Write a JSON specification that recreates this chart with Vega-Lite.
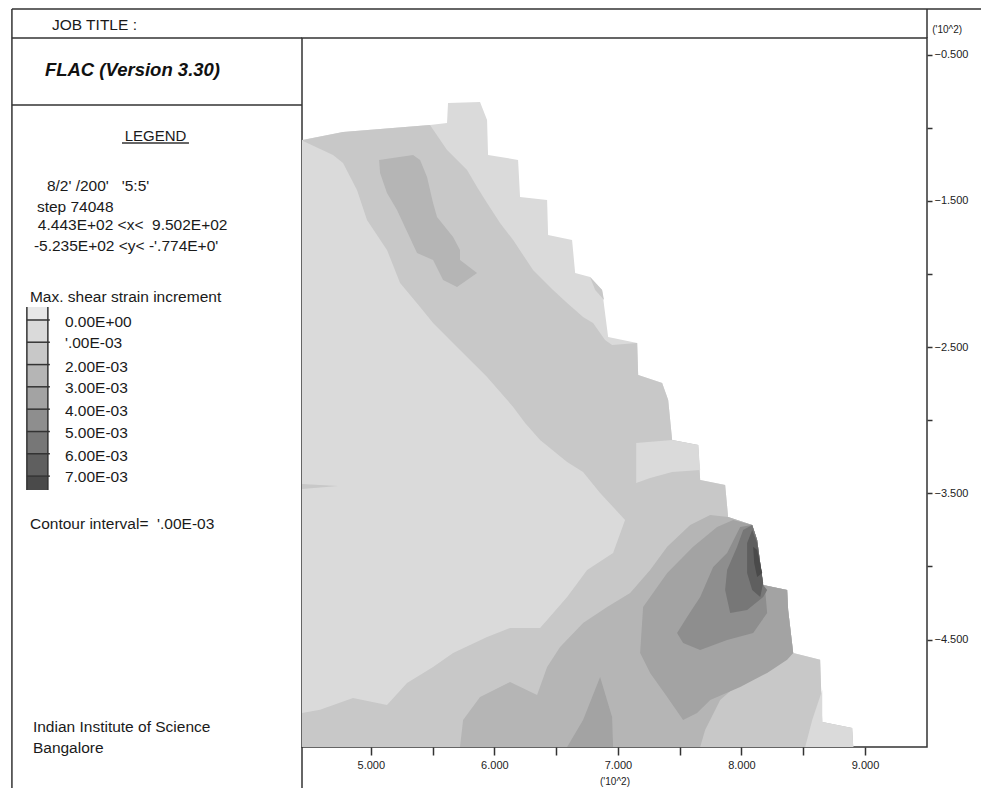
{
  "$schema": "https://vega.github.io/schema/vega-lite/v6.json",
  "autosize": {"type": "none"},
  "padding": {"left": 302, "top": 38, "right": 54, "bottom": 41},
  "width": 625,
  "height": 709,
  "background": "white",
  "config": {"view": {"stroke": "#333333", "strokeWidth": 1.5}, "text": {"font": "Liberation Sans", "color": "#1a1a1a"}},
  "datasets": {
    "poly": [
      {"s":1,"p":"A","l":1,"i":0,"x":4.443,"y":-1.083},{"s":1,"p":"A","l":1,"i":1,"x":4.775,"y":-1.028},{"s":1,"p":"A","l":1,"i":2,"x":5.479,"y":-0.980},{"s":1,"p":"A","l":1,"i":3,"x":5.617,"y":-0.966},{"s":1,"p":"A","l":1,"i":4,"x":5.625,"y":-0.830},{"s":1,"p":"A","l":1,"i":5,"x":5.884,"y":-0.823},{"s":1,"p":"A","l":1,"i":6,"x":5.941,"y":-0.946},{"s":1,"p":"A","l":1,"i":7,"x":5.949,"y":-1.185},{"s":1,"p":"A","l":1,"i":8,"x":6.192,"y":-1.219},{"s":1,"p":"A","l":1,"i":9,"x":6.208,"y":-1.473},{"s":1,"p":"A","l":1,"i":10,"x":6.427,"y":-1.493},{"s":1,"p":"A","l":1,"i":11,"x":6.435,"y":-1.732},{"s":1,"p":"A","l":1,"i":12,"x":6.629,"y":-1.767},{"s":1,"p":"A","l":1,"i":13,"x":6.654,"y":-1.992},{"s":1,"p":"A","l":1,"i":14,"x":6.775,"y":-2.020},{"s":1,"p":"A","l":1,"i":15,"x":6.872,"y":-2.109},{"s":1,"p":"A","l":1,"i":16,"x":6.921,"y":-2.430},{"s":1,"p":"A","l":1,"i":17,"x":7.156,"y":-2.471},{"s":1,"p":"A","l":1,"i":18,"x":7.164,"y":-2.690},{"s":1,"p":"A","l":1,"i":19,"x":7.358,"y":-2.745},{"s":1,"p":"A","l":1,"i":20,"x":7.407,"y":-2.861},{"s":1,"p":"A","l":1,"i":21,"x":7.439,"y":-3.135},{"s":1,"p":"A","l":1,"i":22,"x":7.650,"y":-3.169},{"s":1,"p":"A","l":1,"i":23,"x":7.666,"y":-3.408},{"s":1,"p":"A","l":1,"i":24,"x":7.868,"y":-3.442},{"s":1,"p":"A","l":1,"i":25,"x":7.892,"y":-3.661},{"s":1,"p":"A","l":1,"i":26,"x":8.087,"y":-3.716},{"s":1,"p":"A","l":1,"i":27,"x":8.127,"y":-3.819},{"s":1,"p":"A","l":1,"i":28,"x":8.176,"y":-4.126},{"s":1,"p":"A","l":1,"i":29,"x":8.370,"y":-4.161},{"s":1,"p":"A","l":1,"i":30,"x":8.378,"y":-4.297},{"s":1,"p":"A","l":1,"i":31,"x":8.419,"y":-4.592},{"s":1,"p":"A","l":1,"i":32,"x":8.637,"y":-4.639},{"s":1,"p":"A","l":1,"i":33,"x":8.654,"y":-5.064},{"s":1,"p":"A","l":1,"i":34,"x":8.896,"y":-5.105},{"s":1,"p":"A","l":1,"i":35,"x":8.905,"y":-5.235},{"s":1,"p":"A","l":1,"i":36,"x":4.443,"y":-5.235},

      {"s":2,"p":"B","l":2,"i":0,"x":4.451,"y":-1.083},{"s":2,"p":"B","l":2,"i":1,"x":4.775,"y":-1.028},{"s":2,"p":"B","l":2,"i":2,"x":5.479,"y":-0.980},{"s":2,"p":"B","l":2,"i":3,"x":5.617,"y":-1.151},{"s":2,"p":"B","l":2,"i":4,"x":5.779,"y":-1.288},{"s":2,"p":"B","l":2,"i":5,"x":5.860,"y":-1.404},{"s":2,"p":"B","l":2,"i":6,"x":5.941,"y":-1.514},{"s":2,"p":"B","l":2,"i":7,"x":6.046,"y":-1.650},{"s":2,"p":"B","l":2,"i":8,"x":6.152,"y":-1.767},{"s":2,"p":"B","l":2,"i":9,"x":6.313,"y":-1.972},{"s":2,"p":"B","l":2,"i":10,"x":6.475,"y":-2.109},{"s":2,"p":"B","l":2,"i":11,"x":6.589,"y":-2.198},{"s":2,"p":"B","l":2,"i":12,"x":6.718,"y":-2.293},{"s":2,"p":"B","l":2,"i":13,"x":6.799,"y":-2.334},{"s":2,"p":"B","l":2,"i":14,"x":6.896,"y":-2.451},{"s":2,"p":"B","l":2,"i":15,"x":6.953,"y":-2.485},{"s":2,"p":"B","l":2,"i":16,"x":7.156,"y":-2.471},{"s":2,"p":"B","l":2,"i":17,"x":7.164,"y":-2.690},{"s":2,"p":"B","l":2,"i":18,"x":7.358,"y":-2.745},{"s":2,"p":"B","l":2,"i":19,"x":7.407,"y":-2.861},{"s":2,"p":"B","l":2,"i":20,"x":7.439,"y":-3.135},{"s":2,"p":"B","l":2,"i":21,"x":7.650,"y":-3.169},{"s":2,"p":"B","l":2,"i":22,"x":7.666,"y":-3.408},{"s":2,"p":"B","l":2,"i":23,"x":7.868,"y":-3.442},{"s":2,"p":"B","l":2,"i":24,"x":7.892,"y":-3.661},{"s":2,"p":"B","l":2,"i":25,"x":8.087,"y":-3.716},{"s":2,"p":"B","l":2,"i":26,"x":8.127,"y":-3.819},{"s":2,"p":"B","l":2,"i":27,"x":8.176,"y":-4.126},{"s":2,"p":"B","l":2,"i":28,"x":8.370,"y":-4.161},{"s":2,"p":"B","l":2,"i":29,"x":8.378,"y":-4.297},{"s":2,"p":"B","l":2,"i":30,"x":8.419,"y":-4.592},{"s":2,"p":"B","l":2,"i":31,"x":8.637,"y":-4.639},{"s":2,"p":"B","l":2,"i":32,"x":8.654,"y":-5.064},{"s":2,"p":"B","l":2,"i":33,"x":8.896,"y":-5.105},{"s":2,"p":"B","l":2,"i":34,"x":8.905,"y":-5.235},{"s":2,"p":"B","l":2,"i":35,"x":4.443,"y":-5.235},{"s":2,"p":"B","l":2,"i":36,"x":4.443,"y":-5.002},{"s":2,"p":"B","l":2,"i":37,"x":4.589,"y":-4.981},{"s":2,"p":"B","l":2,"i":38,"x":4.856,"y":-4.899},{"s":2,"p":"B","l":2,"i":39,"x":5.131,"y":-4.947},{"s":2,"p":"B","l":2,"i":40,"x":5.293,"y":-4.797},{"s":2,"p":"B","l":2,"i":41,"x":5.504,"y":-4.687},{"s":2,"p":"B","l":2,"i":42,"x":5.666,"y":-4.592},{"s":2,"p":"B","l":2,"i":43,"x":5.941,"y":-4.482},{"s":2,"p":"B","l":2,"i":44,"x":6.127,"y":-4.421},{"s":2,"p":"B","l":2,"i":45,"x":6.370,"y":-4.421},{"s":2,"p":"B","l":2,"i":46,"x":6.427,"y":-4.366},{"s":2,"p":"B","l":2,"i":47,"x":6.589,"y":-4.209},{"s":2,"p":"B","l":2,"i":48,"x":6.751,"y":-4.024},{"s":2,"p":"B","l":2,"i":49,"x":6.961,"y":-3.908},{"s":2,"p":"B","l":2,"i":50,"x":7.058,"y":-3.682},{"s":2,"p":"B","l":2,"i":51,"x":6.856,"y":-3.497},{"s":2,"p":"B","l":2,"i":52,"x":6.718,"y":-3.354},{"s":2,"p":"B","l":2,"i":53,"x":6.589,"y":-3.285},{"s":2,"p":"B","l":2,"i":54,"x":6.370,"y":-3.135},{"s":2,"p":"B","l":2,"i":55,"x":6.249,"y":-3.018},{"s":2,"p":"B","l":2,"i":56,"x":6.152,"y":-2.909},{"s":2,"p":"B","l":2,"i":57,"x":5.941,"y":-2.704},{"s":2,"p":"B","l":2,"i":58,"x":5.722,"y":-2.519},{"s":2,"p":"B","l":2,"i":59,"x":5.504,"y":-2.334},{"s":2,"p":"B","l":2,"i":60,"x":5.399,"y":-2.225},{"s":2,"p":"B","l":2,"i":61,"x":5.237,"y":-2.061},{"s":2,"p":"B","l":2,"i":62,"x":5.131,"y":-1.835},{"s":2,"p":"B","l":2,"i":63,"x":4.969,"y":-1.630},{"s":2,"p":"B","l":2,"i":64,"x":4.888,"y":-1.425},{"s":2,"p":"B","l":2,"i":65,"x":4.775,"y":-1.240},{"s":2,"p":"B","l":2,"i":66,"x":4.694,"y":-1.185},{"s":2,"p":"B","l":2,"i":67,"x":4.451,"y":-1.090},

      {"s":2,"p":"C","l":2,"i":0,"x":4.443,"y":-3.436},{"s":2,"p":"C","l":2,"i":1,"x":4.735,"y":-3.449},{"s":2,"p":"C","l":2,"i":2,"x":4.443,"y":-3.470},

      {"s":3,"p":"D","l":3,"i":0,"x":5.067,"y":-1.219},{"s":3,"p":"D","l":3,"i":1,"x":5.342,"y":-1.185},{"s":3,"p":"D","l":3,"i":2,"x":5.399,"y":-1.219},{"s":3,"p":"D","l":3,"i":3,"x":5.455,"y":-1.336},{"s":3,"p":"D","l":3,"i":4,"x":5.504,"y":-1.514},{"s":3,"p":"D","l":3,"i":5,"x":5.536,"y":-1.609},{"s":3,"p":"D","l":3,"i":6,"x":5.666,"y":-1.746},{"s":3,"p":"D","l":3,"i":7,"x":5.722,"y":-1.835},{"s":3,"p":"D","l":3,"i":8,"x":5.722,"y":-1.903},{"s":3,"p":"D","l":3,"i":9,"x":5.860,"y":-1.992},{"s":3,"p":"D","l":3,"i":10,"x":5.698,"y":-2.088},{"s":3,"p":"D","l":3,"i":11,"x":5.585,"y":-2.040},{"s":3,"p":"D","l":3,"i":12,"x":5.504,"y":-1.903},{"s":3,"p":"D","l":3,"i":13,"x":5.374,"y":-1.856},{"s":3,"p":"D","l":3,"i":14,"x":5.261,"y":-1.650},{"s":3,"p":"D","l":3,"i":15,"x":5.212,"y":-1.561},{"s":3,"p":"D","l":3,"i":16,"x":5.131,"y":-1.445},{"s":3,"p":"D","l":3,"i":17,"x":5.075,"y":-1.308},

      {"s":3,"p":"E","l":3,"i":0,"x":5.722,"y":-5.235},{"s":3,"p":"E","l":3,"i":1,"x":5.747,"y":-5.050},{"s":3,"p":"E","l":3,"i":2,"x":5.884,"y":-4.893},{"s":3,"p":"E","l":3,"i":3,"x":6.127,"y":-4.790},{"s":3,"p":"E","l":3,"i":4,"x":6.346,"y":-4.879},{"s":3,"p":"E","l":3,"i":5,"x":6.427,"y":-4.687},{"s":3,"p":"E","l":3,"i":6,"x":6.532,"y":-4.551},{"s":3,"p":"E","l":3,"i":7,"x":6.718,"y":-4.386},{"s":3,"p":"E","l":3,"i":8,"x":6.913,"y":-4.277},{"s":3,"p":"E","l":3,"i":9,"x":7.099,"y":-4.181},{"s":3,"p":"E","l":3,"i":10,"x":7.261,"y":-4.024},{"s":3,"p":"E","l":3,"i":11,"x":7.399,"y":-3.866},{"s":3,"p":"E","l":3,"i":12,"x":7.585,"y":-3.716},{"s":3,"p":"E","l":3,"i":13,"x":7.747,"y":-3.648},{"s":3,"p":"E","l":3,"i":14,"x":7.892,"y":-3.661},{"s":3,"p":"E","l":3,"i":15,"x":8.087,"y":-3.716},{"s":3,"p":"E","l":3,"i":16,"x":8.127,"y":-3.819},{"s":3,"p":"E","l":3,"i":17,"x":8.176,"y":-4.126},{"s":3,"p":"E","l":3,"i":18,"x":8.370,"y":-4.161},{"s":3,"p":"E","l":3,"i":19,"x":8.378,"y":-4.297},{"s":3,"p":"E","l":3,"i":20,"x":8.419,"y":-4.592},{"s":3,"p":"E","l":3,"i":21,"x":8.273,"y":-4.653},{"s":3,"p":"E","l":3,"i":22,"x":8.030,"y":-4.763},{"s":3,"p":"E","l":3,"i":23,"x":7.828,"y":-4.913},{"s":3,"p":"E","l":3,"i":24,"x":7.706,"y":-5.118},{"s":3,"p":"E","l":3,"i":25,"x":7.666,"y":-5.235},

      {"s":3,"p":"L","l":1,"i":0,"x":7.148,"y":-3.155},{"s":3,"p":"L","l":1,"i":1,"x":7.439,"y":-3.135},{"s":3,"p":"L","l":1,"i":2,"x":7.650,"y":-3.169},{"s":3,"p":"L","l":1,"i":3,"x":7.666,"y":-3.340},{"s":3,"p":"L","l":1,"i":4,"x":7.439,"y":-3.354},{"s":3,"p":"L","l":1,"i":5,"x":7.261,"y":-3.395},{"s":3,"p":"L","l":1,"i":6,"x":7.148,"y":-3.429},

      {"s":3,"p":"M","l":1,"i":0,"x":8.654,"y":-4.845},{"s":3,"p":"M","l":1,"i":1,"x":8.654,"y":-5.064},{"s":3,"p":"M","l":1,"i":2,"x":8.896,"y":-5.105},{"s":3,"p":"M","l":1,"i":3,"x":8.905,"y":-5.235},{"s":3,"p":"M","l":1,"i":4,"x":8.516,"y":-5.235},{"s":3,"p":"M","l":1,"i":5,"x":8.573,"y":-5.050},

      {"s":3,"p":"N","l":2,"i":0,"x":6.775,"y":-2.020},{"s":3,"p":"N","l":2,"i":1,"x":6.872,"y":-2.109},{"s":3,"p":"N","l":2,"i":2,"x":6.888,"y":-2.177},{"s":3,"p":"N","l":2,"i":3,"x":6.816,"y":-2.109},

      {"s":4,"p":"F","l":4,"i":0,"x":6.589,"y":-5.235},{"s":4,"p":"F","l":4,"i":1,"x":6.718,"y":-5.050},{"s":4,"p":"F","l":4,"i":2,"x":6.856,"y":-4.756},{"s":4,"p":"F","l":4,"i":3,"x":6.953,"y":-5.029},{"s":4,"p":"F","l":4,"i":4,"x":6.961,"y":-5.235},

      {"s":4,"p":"G","l":4,"i":0,"x":7.180,"y":-4.592},{"s":4,"p":"G","l":4,"i":1,"x":7.204,"y":-4.277},{"s":4,"p":"G","l":4,"i":2,"x":7.399,"y":-4.044},{"s":4,"p":"G","l":4,"i":3,"x":7.609,"y":-3.866},{"s":4,"p":"G","l":4,"i":4,"x":7.803,"y":-3.730},{"s":4,"p":"G","l":4,"i":5,"x":7.933,"y":-3.682},{"s":4,"p":"G","l":4,"i":6,"x":8.087,"y":-3.716},{"s":4,"p":"G","l":4,"i":7,"x":8.127,"y":-3.819},{"s":4,"p":"G","l":4,"i":8,"x":8.176,"y":-4.126},{"s":4,"p":"G","l":4,"i":9,"x":8.370,"y":-4.161},{"s":4,"p":"G","l":4,"i":10,"x":8.378,"y":-4.297},{"s":4,"p":"G","l":4,"i":11,"x":8.419,"y":-4.592},{"s":4,"p":"G","l":4,"i":12,"x":8.370,"y":-4.639},{"s":4,"p":"G","l":4,"i":13,"x":8.208,"y":-4.728},{"s":4,"p":"G","l":4,"i":14,"x":7.990,"y":-4.824},{"s":4,"p":"G","l":4,"i":15,"x":7.747,"y":-4.913},{"s":4,"p":"G","l":4,"i":16,"x":7.641,"y":-5.002},{"s":4,"p":"G","l":4,"i":17,"x":7.528,"y":-5.050},{"s":4,"p":"G","l":4,"i":18,"x":7.399,"y":-4.893},{"s":4,"p":"G","l":4,"i":19,"x":7.261,"y":-4.728},

      {"s":5,"p":"H","l":5,"i":0,"x":7.479,"y":-4.455},{"s":5,"p":"H","l":5,"i":1,"x":7.560,"y":-4.345},{"s":5,"p":"H","l":5,"i":2,"x":7.666,"y":-4.209},{"s":5,"p":"H","l":5,"i":3,"x":7.771,"y":-4.003},{"s":5,"p":"H","l":5,"i":4,"x":7.884,"y":-3.908},{"s":5,"p":"H","l":5,"i":5,"x":7.990,"y":-3.730},{"s":5,"p":"H","l":5,"i":6,"x":8.087,"y":-3.716},{"s":5,"p":"H","l":5,"i":7,"x":8.127,"y":-3.819},{"s":5,"p":"H","l":5,"i":8,"x":8.176,"y":-4.126},{"s":5,"p":"H","l":5,"i":9,"x":8.192,"y":-4.161},{"s":5,"p":"H","l":5,"i":10,"x":8.208,"y":-4.318},{"s":5,"p":"H","l":5,"i":11,"x":8.095,"y":-4.455},{"s":5,"p":"H","l":5,"i":12,"x":7.884,"y":-4.503},{"s":5,"p":"H","l":5,"i":13,"x":7.666,"y":-4.571},{"s":5,"p":"H","l":5,"i":14,"x":7.528,"y":-4.523},

      {"s":6,"p":"I","l":6,"i":0,"x":7.884,"y":-4.024},{"s":6,"p":"I","l":6,"i":1,"x":7.965,"y":-3.866},{"s":6,"p":"I","l":6,"i":2,"x":8.014,"y":-3.750},{"s":6,"p":"I","l":6,"i":3,"x":8.087,"y":-3.716},{"s":6,"p":"I","l":6,"i":4,"x":8.127,"y":-3.819},{"s":6,"p":"I","l":6,"i":5,"x":8.176,"y":-4.126},{"s":6,"p":"I","l":6,"i":6,"x":8.208,"y":-4.161},{"s":6,"p":"I","l":6,"i":7,"x":8.176,"y":-4.209},{"s":6,"p":"I","l":6,"i":8,"x":8.046,"y":-4.297},{"s":6,"p":"I","l":6,"i":9,"x":7.909,"y":-4.318},{"s":6,"p":"I","l":6,"i":10,"x":7.868,"y":-4.161},

      {"s":7,"p":"J","l":7,"i":0,"x":8.046,"y":-3.839},{"s":7,"p":"J","l":7,"i":1,"x":8.087,"y":-3.750},{"s":7,"p":"J","l":7,"i":2,"x":8.127,"y":-3.839},{"s":7,"p":"J","l":7,"i":3,"x":8.176,"y":-4.113},{"s":7,"p":"J","l":7,"i":4,"x":8.152,"y":-4.209},{"s":7,"p":"J","l":7,"i":5,"x":8.087,"y":-4.161},{"s":7,"p":"J","l":7,"i":6,"x":8.046,"y":-4.044},

      {"s":8,"p":"K","l":8,"i":0,"x":8.095,"y":-3.866},{"s":8,"p":"K","l":8,"i":1,"x":8.127,"y":-3.887},{"s":8,"p":"K","l":8,"i":2,"x":8.168,"y":-4.044},{"s":8,"p":"K","l":8,"i":3,"x":8.127,"y":-4.072},{"s":8,"p":"K","l":8,"i":4,"x":8.103,"y":-3.976}
    ],
    "legbar": [
      {"l":0,"x":2.216,"x2":2.386,"y":-2.225,"y2":-2.314},
      {"l":1,"x":2.216,"x2":2.386,"y":-2.314,"y2":-2.466},
      {"l":2,"x":2.216,"x2":2.386,"y":-2.466,"y2":-2.619},
      {"l":3,"x":2.216,"x2":2.386,"y":-2.619,"y2":-2.771},
      {"l":4,"x":2.216,"x2":2.386,"y":-2.771,"y2":-2.924},
      {"l":5,"x":2.216,"x2":2.386,"y":-2.924,"y2":-3.077},
      {"l":6,"x":2.216,"x2":2.386,"y":-3.077,"y2":-3.229},
      {"l":7,"x":2.216,"x2":2.386,"y":-3.229,"y2":-3.382},
      {"l":8,"x":2.216,"x2":2.386,"y":-3.382,"y2":-3.477}
    ],
    "rules": [
      {"x":2.095,"x2":10.2,"y":-0.187,"y2":-0.187},
      {"x":2.095,"x2":4.443,"y":-0.385,"y2":-0.385},
      {"x":2.095,"x2":2.095,"y":-0.187,"y2":-5.7},
      {"x":4.443,"x2":4.443,"y":-5.235,"y2":-5.7},
      {"x":2.095,"x2":4.443,"y":-0.843,"y2":-0.843},
      {"x":9.502,"x2":9.502,"y":-0.187,"y2":-0.385},
      {"x":2.986,"x2":3.528,"y":-1.103,"y2":-1.103},
      {"x":2.216,"x2":2.216,"y":-2.225,"y2":-3.477},
      {"x":2.386,"x2":2.386,"y":-2.225,"y2":-3.477},
      {"x":2.216,"x2":2.402,"y":-2.314,"y2":-2.314},
      {"x":2.216,"x2":2.402,"y":-2.466,"y2":-2.466},
      {"x":2.216,"x2":2.402,"y":-2.619,"y2":-2.619},
      {"x":2.216,"x2":2.402,"y":-2.771,"y2":-2.771},
      {"x":2.216,"x2":2.402,"y":-2.924,"y2":-2.924},
      {"x":2.216,"x2":2.402,"y":-3.077,"y2":-3.077},
      {"x":2.216,"x2":2.402,"y":-3.229,"y2":-3.229},
      {"x":2.216,"x2":2.402,"y":-3.382,"y2":-3.382}
    ],
    "notes": [
      {"x":2.419,"y":-0.296,"t":"JOB TITLE :"},
      {"x":2.378,"y":-1.397,"t":"8/2' /200'\u00a0\u00a0\u00a0'5:5'"},
      {"x":2.297,"y":-1.541,"t":"step 74048"},
      {"x":2.305,"y":-1.664,"t":"4.443E+02 <x<\u00a0\u00a09.502E+02"},
      {"x":2.273,"y":-1.808,"t":"-5.235E+02 <y< -'.774E+0'"},
      {"x":2.241,"y":-2.157,"t":"Max. shear strain increment"},
      {"x":2.241,"y":-3.709,"t":"Contour interval=\u00a0\u00a0'.00E-03"},
      {"x":2.265,"y":-5.098,"t":"Indian Institute of Science"},
      {"x":2.265,"y":-5.241,"t":"Bangalore"}
    ],
    "leglabels": [
      {"x":2.524,"y":-2.326,"t":"0.00E+00"},
      {"x":2.524,"y":-2.473,"t":"'.00E-03"},
      {"x":2.524,"y":-2.633,"t":"2.00E-03"},
      {"x":2.524,"y":-2.781,"t":"3.00E-03"},
      {"x":2.524,"y":-2.934,"t":"4.00E-03"},
      {"x":2.524,"y":-3.089,"t":"5.00E-03"},
      {"x":2.524,"y":-3.242,"t":"6.00E-03"},
      {"x":2.524,"y":-3.390,"t":"7.00E-03"}
    ],
    "heads": [
      {"x":2.362,"y":-0.607,"t":"FLAC (Version 3.30)"}
    ],
    "legendhead": [
      {"x":3.257,"y":-1.055,"t":"LEGEND"}
    ],
    "units": [
      {"x":9.544,"y":-0.330,"t":"('10^2)"}
    ]
  },
  "layer": [
    {
      "data": {"name": "poly"},
      "encoding": {
        "x": {"field": "x", "type": "quantitative",
          "scale": {"domain": [4.443, 9.502], "nice": false, "zero": false},
          "axis": {"values": [5, 5.5, 6, 6.5, 7, 7.5, 8, 8.5, 9],
            "labelExpr": "datum.value % 1 == 0 ? format(datum.value, '.3f') : ''",
            "domain": false, "grid": false, "tickSize": 8, "tickColor": "#333333", "tickWidth": 1.5,
            "labelFont": "Liberation Sans", "labelFontSize": 11, "labelColor": "#222222", "labelPadding": 4,
            "labelOverlap": false, "labelFlush": false,
            "title": "('10^2)", "titleFont": "Liberation Sans", "titleFontSize": 10, "titleFontWeight": "normal", "titleColor": "#222222", "titlePadding": 6}},
        "y": {"field": "y", "type": "quantitative",
          "scale": {"domain": [-5.235, -0.385], "nice": false, "zero": false},
          "axis": {"orient": "right", "values": [-0.5, -1, -1.5, -2, -2.5, -3, -3.5, -4, -4.5],
            "labelExpr": "(abs(datum.value) * 2) % 2 == 1 ? format(datum.value, '.3f') : ''",
            "domain": false, "grid": false, "tickSize": 5, "tickColor": "#333333", "tickWidth": 1.5,
            "labelFont": "Liberation Sans", "labelFontSize": 11, "labelColor": "#222222", "labelPadding": 2,
            "labelOverlap": false, "labelFlush": false, "title": null}},
        "order": {"field": "i", "type": "quantitative"},
        "detail": {"field": "p", "type": "nominal"},
        "fill": {"field": "l", "type": "ordinal",
          "scale": {"domain": [0, 1, 2, 3, 4, 5, 6, 7, 8],
            "range": ["#e8e8e8", "#dadada", "#c8c8c8", "#b5b5b5", "#a3a3a3", "#8e8e8e", "#777777", "#5f5f5f", "#4a4a4a"]},
          "legend": null}
      },
      "layer": [
        {"transform": [{"filter": "datum.s == 1"}], "mark": {"type": "line", "interpolate": "linear-closed", "strokeWidth": 0}},
        {"transform": [{"filter": "datum.s == 2"}], "mark": {"type": "line", "interpolate": "linear-closed", "strokeWidth": 0}},
        {"transform": [{"filter": "datum.s == 3"}], "mark": {"type": "line", "interpolate": "linear-closed", "strokeWidth": 0}},
        {"transform": [{"filter": "datum.s == 4"}], "mark": {"type": "line", "interpolate": "linear-closed", "strokeWidth": 0}},
        {"transform": [{"filter": "datum.s == 5"}], "mark": {"type": "line", "interpolate": "linear-closed", "strokeWidth": 0}},
        {"transform": [{"filter": "datum.s == 6"}], "mark": {"type": "line", "interpolate": "linear-closed", "strokeWidth": 0}},
        {"transform": [{"filter": "datum.s == 7"}], "mark": {"type": "line", "interpolate": "linear-closed", "strokeWidth": 0}},
        {"transform": [{"filter": "datum.s == 8"}], "mark": {"type": "line", "interpolate": "linear-closed", "strokeWidth": 0}}
      ]
    },
    {
      "data": {"name": "legbar"},
      "mark": {"type": "rect"},
      "encoding": {
        "x": {"field": "x", "type": "quantitative"},
        "x2": {"field": "x2"},
        "y": {"field": "y", "type": "quantitative"},
        "y2": {"field": "y2"},
        "fill": {"field": "l", "type": "ordinal", "legend": null}
      }
    },
    {
      "data": {"name": "rules"},
      "mark": {"type": "rule", "color": "#333333", "strokeWidth": 1.5},
      "encoding": {
        "x": {"field": "x", "type": "quantitative"},
        "x2": {"field": "x2"},
        "y": {"field": "y", "type": "quantitative"},
        "y2": {"field": "y2"}
      }
    },
    {
      "data": {"name": "notes"},
      "mark": {"type": "text", "align": "left", "baseline": "middle", "fontSize": 15.5, "font": "Liberation Sans", "color": "#1a1a1a"},
      "encoding": {
        "x": {"field": "x", "type": "quantitative"},
        "y": {"field": "y", "type": "quantitative"},
        "text": {"field": "t"}
      }
    },
    {
      "data": {"name": "leglabels"},
      "mark": {"type": "text", "align": "left", "baseline": "middle", "fontSize": 15.5, "font": "Liberation Sans", "color": "#1a1a1a"},
      "encoding": {
        "x": {"field": "x", "type": "quantitative"},
        "y": {"field": "y", "type": "quantitative"},
        "text": {"field": "t"}
      }
    },
    {
      "data": {"name": "heads"},
      "mark": {"type": "text", "align": "left", "baseline": "middle", "fontSize": 18.5, "fontWeight": "bold", "fontStyle": "italic", "font": "Liberation Sans", "color": "#111111"},
      "encoding": {
        "x": {"field": "x", "type": "quantitative"},
        "y": {"field": "y", "type": "quantitative"},
        "text": {"field": "t"}
      }
    },
    {
      "data": {"name": "legendhead"},
      "mark": {"type": "text", "align": "center", "baseline": "middle", "fontSize": 15, "font": "Liberation Sans", "color": "#1a1a1a"},
      "encoding": {
        "x": {"field": "x", "type": "quantitative"},
        "y": {"field": "y", "type": "quantitative"},
        "text": {"field": "t"}
      }
    },
    {
      "data": {"name": "units"},
      "mark": {"type": "text", "align": "left", "baseline": "middle", "fontSize": 10, "font": "Liberation Sans", "color": "#222222"},
      "encoding": {
        "x": {"field": "x", "type": "quantitative"},
        "y": {"field": "y", "type": "quantitative"},
        "text": {"field": "t"}
      }
    }
  ]
}
